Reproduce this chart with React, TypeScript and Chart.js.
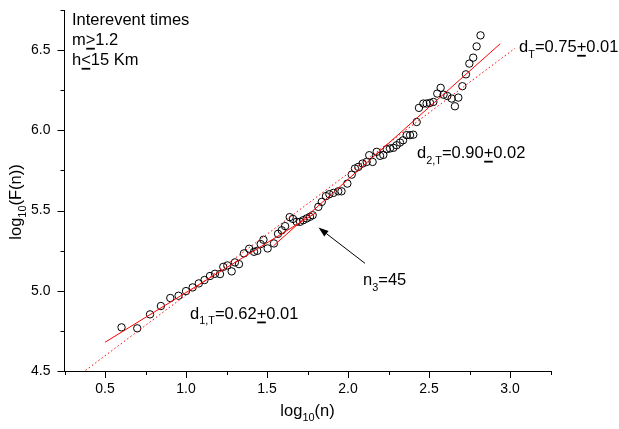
import React, { useEffect, useRef } from 'react';
import { Chart, registerables } from 'chart.js';
Chart.register(...registerables);

const FONT = '"Liberation Sans", Arial, Helvetica, sans-serif';

// log10(n) and log10(F(n))
const LOG_N = [
  0.602, 0.699, 0.778, 0.845, 0.903, 0.954, 1.0, 1.041, 1.079, 1.114,
  1.148, 1.179, 1.21, 1.23, 1.255, 1.282, 1.302, 1.327, 1.358, 1.39,
  1.42, 1.44, 1.461, 1.478, 1.504, 1.543, 1.568, 1.591, 1.612, 1.64,
  1.66, 1.683, 1.704, 1.724, 1.745, 1.765, 1.782, 1.817, 1.838, 1.864,
  1.885, 1.91, 1.94, 1.96, 1.996, 2.023, 2.043, 2.064, 2.09, 2.115,
  2.131, 2.152, 2.177, 2.198, 2.218, 2.239, 2.259, 2.28, 2.3, 2.321,
  2.34, 2.362, 2.383, 2.403, 2.424, 2.438, 2.465, 2.485, 2.506, 2.527,
  2.551, 2.572, 2.59, 2.613, 2.64, 2.66, 2.681, 2.706, 2.728, 2.749,
  2.773, 2.794, 2.818,
];
const LOG_F = [
  4.772, 4.766, 4.853, 4.905, 4.955, 4.969, 4.998, 5.021, 5.046, 5.067,
  5.092, 5.106, 5.104, 5.149, 5.158, 5.121, 5.177, 5.166, 5.233, 5.262,
  5.243, 5.249, 5.291, 5.318, 5.264, 5.295, 5.355, 5.377, 5.403, 5.459,
  5.448, 5.43, 5.43, 5.44, 5.451, 5.461, 5.471, 5.523, 5.554, 5.59,
  5.602, 5.61, 5.62, 5.62, 5.668, 5.724, 5.762, 5.772, 5.793, 5.803,
  5.845, 5.803, 5.866, 5.841, 5.847, 5.882, 5.887, 5.891, 5.907, 5.924,
  5.938, 5.97, 5.97, 5.973, 6.052, 6.14, 6.167, 6.167, 6.171, 6.177,
  6.229, 6.265, 6.222, 6.214, 6.198, 6.15, 6.204, 6.275, 6.349, 6.416,
  6.453, 6.523, 6.592,
];

// fitted lines (end points)
const FIT1_X = [0.5, 1.8];
const FIT1_Y = [4.679, 5.485];
const FIT2_X = [1.54, 2.94];
const FIT2_Y = [5.28, 6.54];
const FITT_X = [0.38, 3.03];
const FITT_Y = [4.504, 6.511];

const X_TICKS = [0.5, 1.0, 1.5, 2.0, 2.5, 3.0];
const Y_TICKS = [4.5, 5.0, 5.5, 6.0, 6.5];
const X_MINOR = [0.25, 0.75, 1.25, 1.75, 2.25, 2.75, 3.25];
const Y_MINOR = [4.75, 5.25, 5.75, 6.25, 6.75];
const X_MIN = 0.25, X_MAX = 3.25, Y_MIN = 4.5, Y_MAX = 6.75;

const ARROW_FROM = [2.105, 5.171];
const ARROW_TO = [1.818, 5.394];

type Part = { t: string; sub?: boolean; ul?: boolean };
type Note = { x: number; y: number; parts: Part[] };

const NOTES: Note[] = [
  { x: 0.296, y: 6.654, parts: [{ t: 'Interevent times' }] },
  { x: 0.296, y: 6.53, parts: [{ t: 'm' }, { t: '>', ul: true }, { t: '1.2' }] },
  { x: 0.296, y: 6.405, parts: [{ t: 'h' }, { t: '<', ul: true }, { t: '15 Km' }] },
  { x: 3.056, y: 6.486, parts: [{ t: 'd' }, { t: 'T', sub: true }, { t: '=0.75' }, { t: '+', ul: true }, { t: '0.01' }] },
  { x: 2.426, y: 5.826, parts: [{ t: 'd' }, { t: '2,T', sub: true }, { t: '=0.90' }, { t: '+', ul: true }, { t: '0.02' }] },
  { x: 1.025, y: 4.824, parts: [{ t: 'd' }, { t: '1,T', sub: true }, { t: '=0.62' }, { t: '+', ul: true }, { t: '0.01' }] },
  { x: 2.093, y: 5.035, parts: [{ t: 'n' }, { t: '3', sub: true }, { t: '=45' }] },
];

const X_TITLE: Part[] = [{ t: 'log' }, { t: '10', sub: true }, { t: '(n)' }];
const Y_TITLE: Part[] = [{ t: 'log' }, { t: '10', sub: true }, { t: '(F(n))' }];

const SIZE = 16.5;

function partsWidth(ctx: CanvasRenderingContext2D, parts: Part[], size: number) {
  let w = 0;
  for (const p of parts) {
    ctx.font = `${p.sub ? size * 0.66 : size}px ${FONT}`;
    w += ctx.measureText(p.t).width;
  }
  return w;
}

function drawRich(ctx: CanvasRenderingContext2D, x: number, y: number, parts: Part[], size: number) {
  let cx = x;
  ctx.textBaseline = 'alphabetic';
  ctx.textAlign = 'left';
  for (const p of parts) {
    const fs = p.sub ? size * 0.66 : size;
    ctx.font = `${fs}px ${FONT}`;
    const dy = p.sub ? size * 0.33 : 0;
    ctx.fillText(p.t, cx, y + dy);
    const w = ctx.measureText(p.t).width;
    if (p.ul) ctx.fillRect(cx + 0.5, y + 2.5, w - 1, 1.8);
    cx += w;
  }
}

const annotPlugin = {
  id: 'annot',
  afterDraw(chart: any) {
    const { ctx, chartArea: a } = chart;
    const xs = chart.scales.x;
    const ys = chart.scales.y;
    ctx.save();
    ctx.strokeStyle = '#000';
    ctx.fillStyle = '#000';
    ctx.lineWidth = 1;
    // tick marks
    const xt = (vals: number[], len: number) => {
      for (const v of vals) {
        const px = Math.round(xs.getPixelForValue(v)) + 0.5;
        ctx.beginPath();
        ctx.moveTo(px, a.bottom);
        ctx.lineTo(px, a.bottom + len);
        ctx.stroke();
      }
    };
    const yt = (vals: number[], len: number) => {
      for (const v of vals) {
        const py = Math.round(ys.getPixelForValue(v)) + 0.5;
        ctx.beginPath();
        ctx.moveTo(a.left, py);
        ctx.lineTo(a.left - len, py);
        ctx.stroke();
      }
    };
    xt(X_TICKS, 7);
    xt(X_MINOR, 4);
    yt(Y_TICKS, 7);
    yt(Y_MINOR, 4);

    // arrow
    const x1 = xs.getPixelForValue(ARROW_FROM[0]);
    const y1 = ys.getPixelForValue(ARROW_FROM[1]);
    const x2 = xs.getPixelForValue(ARROW_TO[0]);
    const y2 = ys.getPixelForValue(ARROW_TO[1]);
    const ang = Math.atan2(y2 - y1, x2 - x1);
    const hl = 10, hw = 3.5;
    const bx = x2 - hl * Math.cos(ang), by = y2 - hl * Math.sin(ang);
    ctx.beginPath();
    ctx.moveTo(x1, y1);
    ctx.lineTo(bx, by);
    ctx.stroke();
    ctx.beginPath();
    ctx.moveTo(x2, y2);
    ctx.lineTo(bx + hw * Math.sin(ang), by - hw * Math.cos(ang));
    ctx.lineTo(bx - hw * Math.sin(ang), by + hw * Math.cos(ang));
    ctx.closePath();
    ctx.fill();

    // notes
    for (const n of NOTES) {
      drawRich(ctx, xs.getPixelForValue(n.x), ys.getPixelForValue(n.y), n.parts, SIZE);
    }

    // axis titles
    const cxm = (a.left + a.right) / 2;
    const wx = partsWidth(ctx, X_TITLE, SIZE);
    drawRich(ctx, cxm - wx / 2, 416, X_TITLE, SIZE);

    const wy = partsWidth(ctx, Y_TITLE, SIZE);
    ctx.save();
    ctx.translate(21, 202);
    ctx.rotate(-Math.PI / 2);
    drawRich(ctx, -wy / 2, 0, Y_TITLE, SIZE);
    ctx.restore();

    ctx.restore();
  },
};

export default function App() {
  const ref = useRef<HTMLCanvasElement | null>(null);
  useEffect(() => {
    if (!ref.current) return;
    const pts = LOG_N.map((x, i) => ({ x, y: LOG_F[i] }));
    const mk = (xs: number[], ys: number[]) => xs.map((x, i) => ({ x, y: ys[i] }));
    const chart = new Chart(ref.current, {
      type: 'scatter',
      data: {
        datasets: [
          {
            data: mk(FIT1_X, FIT1_Y) as any,
            showLine: true,
            borderColor: '#ff0000',
            borderWidth: 1,
            pointRadius: 0,
            fill: false,
          } as any,
          {
            data: mk(FIT2_X, FIT2_Y) as any,
            showLine: true,
            borderColor: '#ff0000',
            borderWidth: 1,
            pointRadius: 0,
            fill: false,
          } as any,
          {
            data: mk(FITT_X, FITT_Y) as any,
            showLine: true,
            borderColor: '#ff0000',
            borderWidth: 1,
            borderDash: [1.5, 2.5],
            pointRadius: 0,
            fill: false,
          } as any,
          {
            data: pts as any,
            pointStyle: 'circle',
            pointRadius: 3.7,
            borderColor: '#000',
            backgroundColor: 'rgba(0,0,0,0)',
            borderWidth: 1,
          } as any,
        ],
      },
      options: {
        animation: false,
        responsive: true,
        maintainAspectRatio: false,
        layout: { padding: { left: 0, top: 10, right: 68.5, bottom: 0 } },
        plugins: { legend: { display: false }, tooltip: { enabled: false } },
        scales: {
          x: {
            type: 'linear',
            min: X_MIN,
            max: X_MAX,
            grid: { display: false, drawTicks: false },
            border: { display: true, color: '#000', width: 1 },
            ticks: {
              font: { family: FONT, size: 14 },
              color: '#000',
              padding: 10,
              autoSkip: false,
              maxRotation: 0,
              callback: (v: any) => Number(v).toFixed(1),
            },
            afterBuildTicks: (s: any) => {
              s.ticks = X_TICKS.map((v) => ({ value: v }));
            },
            afterFit: (s: any) => {
              s.height = 58;
              s.paddingLeft = 0;
              s.paddingRight = 0;
              s.paddingTop = 0;
              s.paddingBottom = 0;
            },
          },
          y: {
            type: 'linear',
            min: Y_MIN,
            max: Y_MAX,
            grid: { display: false, drawTicks: false },
            border: { display: true, color: '#000', width: 1 },
            ticks: {
              font: { family: FONT, size: 14 },
              color: '#000',
              padding: 14,
              autoSkip: false,
              callback: (v: any) => Number(v).toFixed(1),
            },
            afterBuildTicks: (s: any) => {
              s.ticks = Y_TICKS.map((v) => ({ value: v }));
            },
            afterFit: (s: any) => {
              s.width = 64.5;
              s.paddingLeft = 0;
              s.paddingRight = 0;
              s.paddingTop = 0;
              s.paddingBottom = 0;
            },
          },
        },
      } as any,
      plugins: [annotPlugin],
    });
    return () => chart.destroy();
  }, []);
  return (
    <div style={{ position: 'absolute', left: 0, top: 0, width: 619, height: 429, background: '#fff' }}>
      <canvas ref={ref} />
    </div>
  );
}
